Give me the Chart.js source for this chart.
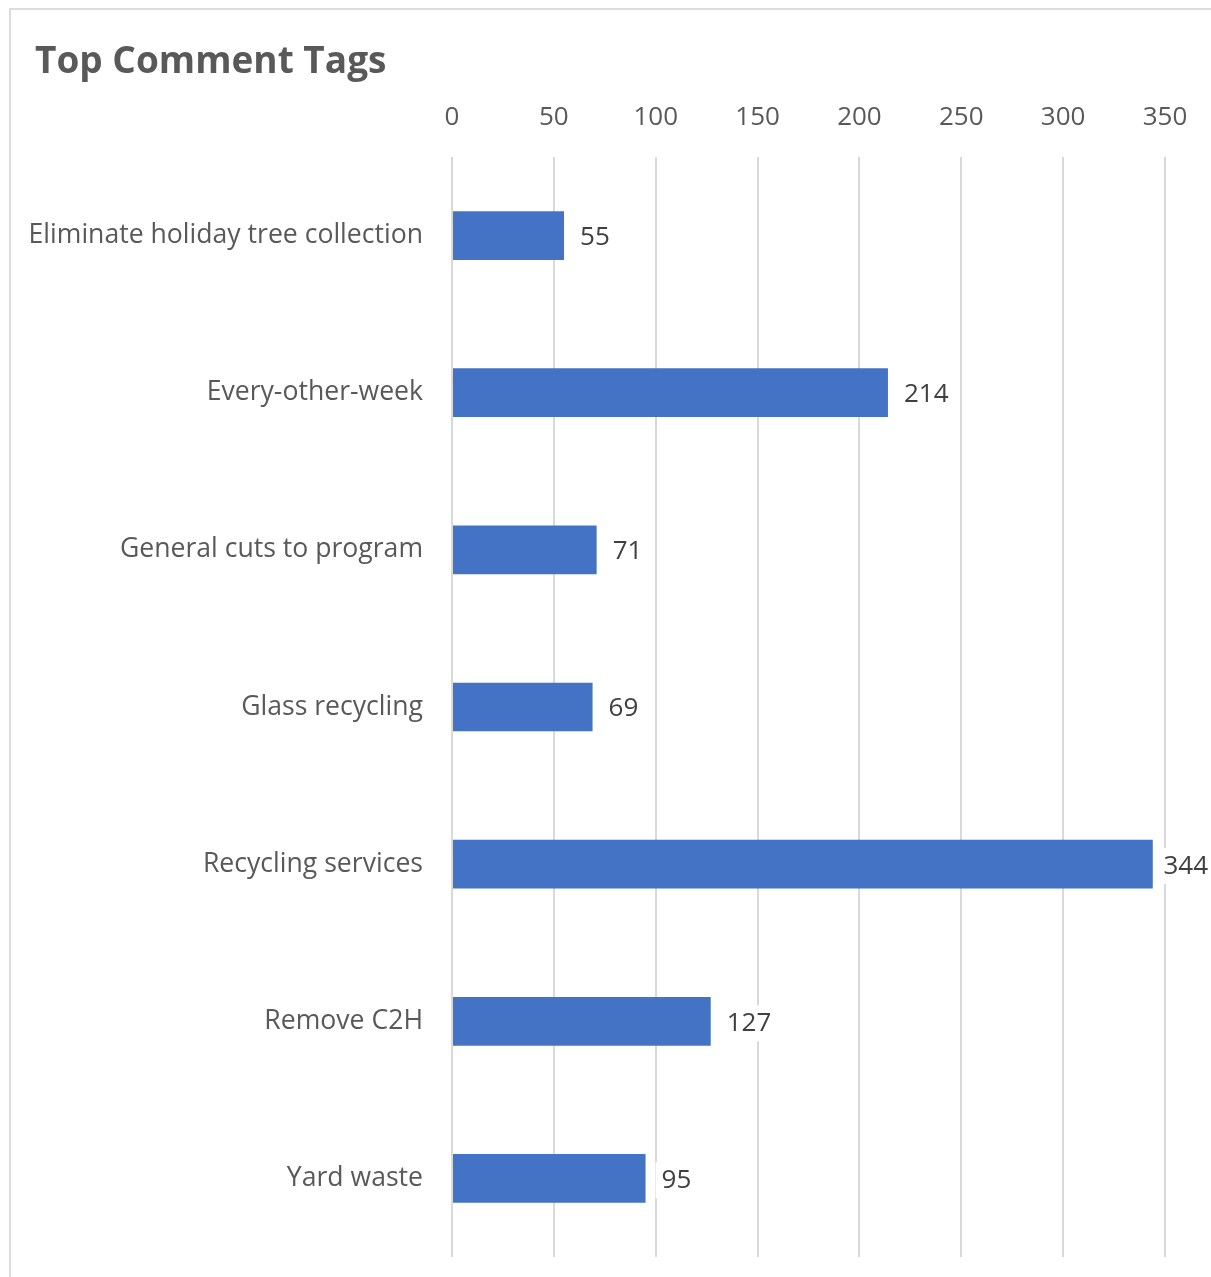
<!DOCTYPE html>
<html>
<head>
<meta charset="utf-8">
<script src="https://cdn.jsdelivr.net/npm/chart.js@4/dist/chart.umd.min.js"></script>
<style>
  html, body { margin: 0; padding: 0; background: #fff; }
  #wrap { position: relative; width: 1211px; height: 1277px; overflow: hidden; }
  #frame { position: absolute; left: 9px; top: 8px; width: 1400px; height: 1400px; border-left: 2px solid #dcdcdc; border-top: 2px solid #dcdcdc; }
  canvas { position: absolute; left: 0; top: 0; }
</style>
</head>
<body>
<div id="wrap">
  <div id="frame"></div>
  <canvas id="c" width="1211" height="1277"></canvas>
</div>
<script>
const chartTitle = "Top Comment Tags";
const categories = [
  "Eliminate holiday tree collection",
  "Every-other-week",
  "General cuts to program",
  "Glass recycling",
  "Recycling services",
  "Remove C2H",
  "Yard waste"
];
const counts = [55, 214, 71, 69, 344, 127, 95];
const axisMin = 0;
const axisMax = 350;
const axisStep = 50;

const FONT = "'Open Sans', 'Noto Sans', sans-serif";
const TOP_RESERVED = 90;
const LEFT_PAD = 15;

const titlePlugin = {
  id: 'leftTitle',
  afterDraw(chart) {
    const ctx = chart.ctx;
    ctx.save();
    ctx.font = "bold 37px " + FONT;
    ctx.fillStyle = '#595959';
    ctx.textAlign = 'left';
    ctx.textBaseline = 'alphabetic';
    ctx.fillText(chartTitle, 35, 73);
    ctx.restore();
  }
};

const valueLabels = {
  id: 'valueLabels',
  afterDatasetsDraw(chart) {
    const ctx = chart.ctx;
    const meta = chart.getDatasetMeta(0);
    ctx.save();
    ctx.font = "26px " + FONT;
    ctx.textBaseline = 'middle';
    ctx.textAlign = 'left';
    meta.data.forEach((bar, i) => {
      const txt = String(chart.data.datasets[0].data[i]);
      const w = ctx.measureText(txt).width;
      const x = Math.min(bar.x + 16, chart.width - w - 3);
      const y = bar.y + 2;
      ctx.fillStyle = '#ffffff';
      ctx.fillRect(x - 6, y - 18, w + 12, 36);
      ctx.fillStyle = '#404040';
      ctx.fillText(txt, x, y);
    });
    ctx.restore();
  }
};

new Chart(document.getElementById('c'), {
  type: 'bar',
  data: {
    labels: categories,
    datasets: [{
      data: counts,
      backgroundColor: '#4472C4',
      borderWidth: 0,
      categoryPercentage: 1.0,
      barPercentage: 0.31
    }]
  },
  options: {
    indexAxis: 'y',
    responsive: false,
    animation: false,
    layout: { padding: { left: LEFT_PAD, right: 46, top: TOP_RESERVED, bottom: 20 } },
    plugins: {
      legend: { display: false },
      tooltip: { enabled: false },
      title: { display: false }
    },
    scales: {
      x: {
        position: 'top',
        min: axisMin,
        max: axisMax,
        ticks: {
          stepSize: axisStep,
          color: '#595959',
          font: { family: FONT, size: 26 },
          padding: 24
        },
        grid: { color: '#d9d9d9', lineWidth: 2, drawTicks: false },
        border: { display: false },
        afterFit(scale) {
          scale.height = 157 - TOP_RESERVED;
          scale.paddingLeft = 0; scale.paddingRight = 0;
        }
      },
      y: {
        ticks: {
          color: '#595959',
          font: { family: FONT, size: 26.6 },
          padding: 29
        },
        grid: { display: false, drawTicks: false },
        border: { display: false },
        afterFit(scale) {
          scale.width = 452 - LEFT_PAD;
          scale.paddingTop = 0; scale.paddingBottom = 0;
        }
      }
    }
  },
  plugins: [valueLabels, titlePlugin]
});
</script>
</body>
</html>
